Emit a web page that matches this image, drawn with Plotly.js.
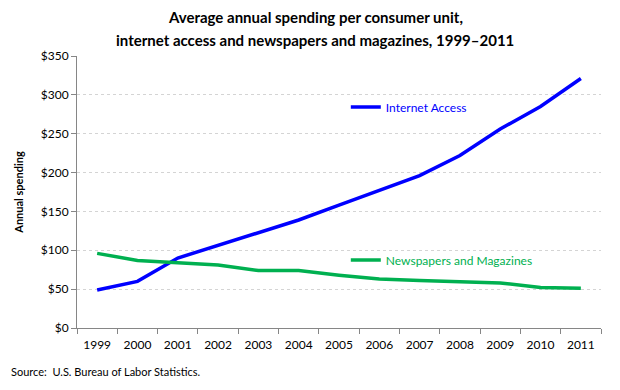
<!DOCTYPE html>
<html><head><meta charset="utf-8">
<script src="https://cdn.plot.ly/plotly-3.0.1.min.js"></script>
<style>body{margin:0;background:#fff}#chart{width:620px;height:390px}</style>
</head><body><div id="chart"></div>
<script>
var years = ['1999','2000','2001','2002','2003','2004','2005','2006','2007','2008','2009','2010','2011'];
var internetAccess = [49, 60, 90, 106, 123, 139, 158, 177, 196, 222, 256, 285, 321];
var newspapersMagazines = [96, 87, 84, 81, 74, 74, 68, 63, 61, 59, 58, 52, 51];
var yTickVals = [0, 50, 100, 150, 200, 250, 300, 350];
var yTickText = ['$0','$50','$100','$150','$200','$250','$300','$350'];
var titleLines = ['Average annual spending per consumer unit,', 'internet access and newspapers and magazines, 1999\u20132011'];

var F = 'Lato, "Liberation Sans", sans-serif';
var blue = '#0000FF', green = '#00B050';

var traces = [
  {x: years, y: internetAccess, type: 'scatter', mode: 'lines', name: 'Internet Access',
   line: {color: blue, width: 3.5}, legend: 'legend'},
  {x: years, y: newspapersMagazines, type: 'scatter', mode: 'lines', name: 'Newspapers and Magazines',
   line: {color: green, width: 3.5}, legend: 'legend2'}
];

var layout = {
  width: 620, height: 390,
  margin: {l: 77, r: 19, t: 56, b: 62},
  paper_bgcolor: '#fff', plot_bgcolor: '#fff',
  font: {family: F, size: 12, color: '#000'},
  xaxis: {type: 'category', tickmode: 'array', tickvals: years, ticktext: years,
          range: [-0.5, 12.5], showgrid: false, showline: true, linecolor: '#868686', linewidth: 1,
          ticks: 'outside', ticklen: 5, tickcolor: '#868686', tickson: 'boundaries', ticklabelstandoff: 6,
          tickfont: {family: F, size: 12, color: '#000'}, zeroline: false, fixedrange: true},
  yaxis: {range: [0, 350], tickmode: 'array', tickvals: yTickVals, ticktext: yTickText,
          showgrid: true, gridcolor: '#d4d4d4', griddash: 'dot', gridwidth: 1,
          showline: true, linecolor: '#868686', linewidth: 1, ticks: 'outside', ticklen: 5, tickcolor: '#868686',
          tickfont: {family: F, size: 12, color: '#000'}, zeroline: false, fixedrange: true,
          title: {text: '<b>Annual spending</b>', font: {family: F, size: 11, color: '#000'}, standoff: 14}},
  legend: {x: 0.513, y: 0.8125, xanchor: 'left', yanchor: 'middle', bgcolor: 'rgba(0,0,0,0)',
           font: {family: F, size: 12, color: blue}, itemwidth: 30, tracegroupgap: 0},
  legend2: {x: 0.513, y: 0.2500, xanchor: 'left', yanchor: 'middle', bgcolor: 'rgba(0,0,0,0)',
           font: {family: F, size: 12, color: green}, itemwidth: 30},
  showlegend: true,
  annotations: [
    {text: '<b>' + titleLines[0] + '</b>', xref: 'paper', yref: 'paper', x: 0.455, y: 1.143,
     xanchor: 'center', yanchor: 'middle', showarrow: false, font: {family: F, size: 15, color: '#000'}},
    {text: '<b>' + titleLines[1] + '</b>', xref: 'paper', yref: 'paper', x: 0.455, y: 1.059,
     xanchor: 'center', yanchor: 'middle', showarrow: false, font: {family: F, size: 15, color: '#000'}},
    {text: 'Source:  U.S. Bureau of Labor Statistics.', xref: 'paper', yref: 'paper', x: -0.13, y: -0.13,
     xanchor: 'left', yanchor: 'top', showarrow: false, font: {family: F, size: 11, color: '#000'}}
  ]
};
Plotly.newPlot('chart', traces, layout, {displayModeBar: false, staticPlot: true});
</script></body></html>
